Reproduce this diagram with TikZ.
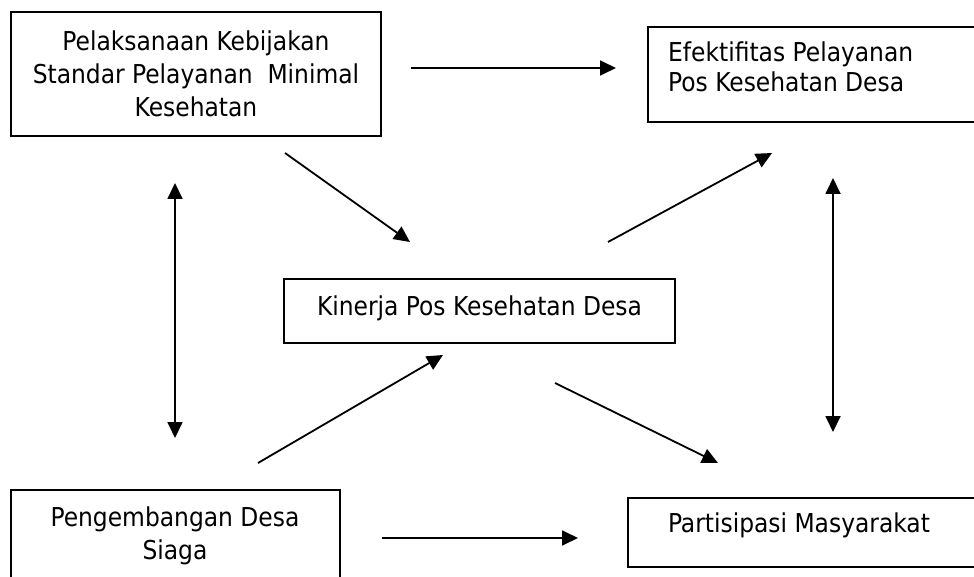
\documentclass[tikz,border=0pt]{standalone}
\usepackage{fontspec}
\setmainfont{DejaVu Sans Condensed}
\usepackage{tikz}
\usetikzlibrary{arrows.meta}

\tikzset{
  kotak/.style={draw,line width=1.5pt,inner sep=0pt},
  panah/.style={line width=1.8pt,-{Triangle[length=16pt,width=15pt]}},
  panahdua/.style={line width=1.8pt,{Triangle[length=16pt,width=15pt]}-{Triangle[length=16pt,width=15pt]}}
}

\begin{document}
\begin{tikzpicture}[x=1pt,y=-1pt,font=\fontsize{26}{33}\selectfont]
			\useasboundingbox (0,0) rectangle (974,577);
			\clip (0,0) rectangle (974,577);
			% kotak
			\node[kotak,align=center,minimum width=370pt,minimum height=124pt] (spm) at (196,74) {Pelaksanaan Kebijakan\\Standar Pelayanan\ \ Minimal\\Kesehatan};
			\node[kotak,minimum width=337pt,minimum height=95pt] (efek) at (816.5,74.5) {};
			\node[align=left,anchor=north west,inner sep=0pt,font=\fontsize{26}{30}\selectfont] (efektxt) at (668,42) {Efektifitas Pelayanan\\Pos Kesehatan Desa};
			\node[kotak,minimum width=391pt,minimum height=64pt,text depth=11pt] (kinerja) at (479.5,311) {Kinerja Pos Kesehatan Desa};
			\node[kotak,minimum width=329pt,minimum height=110pt] (siaga) at (175.5,545) {};
			\node[align=center,anchor=north,inner sep=0pt] (siagatxt) at (175,507) {Pengembangan Desa\\Siaga};
			\node[kotak,minimum width=357pt,minimum height=69pt] (psm) at (806.5,532.5) {};
			\node[inner sep=0pt] (psmtxt) at (799,525) {Partisipasi Masyarakat};
			% ujung panah
			\coordinate (a1) at (411,68);   \coordinate (a2) at (616,68);
			\coordinate (b1) at (285,153);  \coordinate (b2) at (410,242);
			\coordinate (c1) at (608,242);  \coordinate (c2) at (772,153);
			\coordinate (d1) at (258,463);  \coordinate (d2) at (443,355);
			\coordinate (e1) at (555,383);  \coordinate (e2) at (718,463);
			\coordinate (f1) at (382,538);  \coordinate (f2) at (578,538);
			\coordinate (g1) at (175,183);  \coordinate (g2) at (175,438);
			\coordinate (h1) at (833,178);  \coordinate (h2) at (833,432);
			\draw[panah] (a1) -- (a2);
			\draw[panah] (b1) -- (b2);
			\draw[panah] (c1) -- (c2);
			\draw[panah] (d1) -- (d2);
			\draw[panah] (e1) -- (e2);
			\draw[panah] (f1) -- (f2);
			\draw[panahdua] (g1) -- (g2);
			\draw[panahdua] (h1) -- (h2);
		\end{tikzpicture}
\end{document}
